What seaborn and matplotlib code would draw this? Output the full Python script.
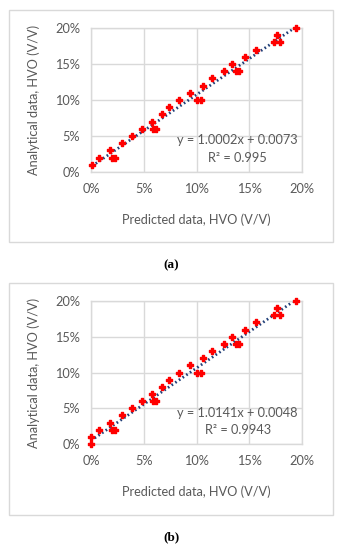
import numpy as np
import pandas as pd
import matplotlib
matplotlib.use("Agg")
import matplotlib.pyplot as plt
from matplotlib.patches import Rectangle
from matplotlib.ticker import PercentFormatter, MultipleLocator
import seaborn as sns

# predicted vs analytical HVO content, in percent
pred_a = [0.1, 0.8, 1.8, 2.0, 2.3, 2.9, 3.9, 4.8, 5.8, 5.9, 6.2, 6.75, 7.4, 8.3, 9.4,
          10.0, 10.4, 10.6, 11.5, 12.6, 13.4, 13.7, 14.0, 14.6, 15.6, 17.3, 17.6, 17.9, 19.4]
anal_a = [1, 2, 3, 2, 2, 4, 5, 6, 7, 6, 6, 8, 9, 10, 11,
          10, 10, 12, 13, 14, 15, 14, 14, 16, 17, 18, 19, 18, 20]
pred_b = [0.0] + pred_a[:]
pred_b[1] = 0.0
anal_b = [0] + anal_a

# trendline coefficients as printed on the chart
fits = [(1.0002, 0.0073, "0.995"), (1.0141, 0.0048, "0.9943")]
panel_labels = ["(a)", "(b)"]

sns.set_style("white")
plt.rcParams["font.family"] = ["Lato", "DejaVu Sans"]
grey_txt = "#595959"
grid_col = "#D9D9D9"

W, H = 342, 550
fig = plt.figure(figsize=(W / 100, H / 100), dpi=100)

# pixel boxes: (plot left, plot top, plot right, plot bottom), (frame top, frame bottom), label y
layout = [((91, 28, 302, 172), (10, 242), 265),
          ((91, 301, 302, 444), (283, 515), 537)]

datasets = [(pred_a, anal_a), (pred_b, anal_b)]

for (px, py), (slope, icpt, r2), lab, (box, frame, laby) in zip(datasets, fits, panel_labels, layout):
    l, t, r, b = box
    # chart frame
    fig.patches.append(Rectangle((9 / W, 1 - frame[1] / H), (333 - 9) / W, (frame[1] - frame[0]) / H,
                                 transform=fig.transFigure, fill=False, edgecolor=grid_col, lw=1))
    ax = fig.add_axes([l / W, 1 - b / H, (r - l) / W, (b - t) / H])
    df = pd.DataFrame({"x": np.array(px) / 100, "y": np.array(py) / 100})
    xs = np.array([df.x.min(), df.x.max()])
    trend = pd.DataFrame({"x": xs, "y": slope * xs + icpt})
    sns.lineplot(data=trend, x="x", y="y", ax=ax, color="#203F78", lw=2,
                 linestyle=(0, (0.6, 1.0)), zorder=2)
    sns.scatterplot(data=df, x="x", y="y", ax=ax, marker="P", s=24, color="#FF0000",
                    edgecolor="#FF0000", linewidth=1.0, zorder=3, clip_on=False)
    ax.set_xlim(0, 0.20)
    ax.set_ylim(0, 0.20)
    ax.xaxis.set_major_locator(MultipleLocator(0.05))
    ax.yaxis.set_major_locator(MultipleLocator(0.05))
    ax.xaxis.set_major_formatter(PercentFormatter(1.0, decimals=0))
    ax.yaxis.set_major_formatter(PercentFormatter(1.0, decimals=0))
    ax.grid(True, color=grid_col, lw=1)
    ax.set_axisbelow(True)
    for s in ax.spines.values():
        s.set_color(grid_col)
        s.set_linewidth(1)
    ax.tick_params(axis="both", length=0, labelsize=9.2, labelcolor=grey_txt, pad=8)
    ax.set_xlabel("Predicted data, HVO (V/V)", fontsize=9.2, color=grey_txt)
    ax.set_ylabel("Analytical data, HVO (V/V)", fontsize=9.2, color=grey_txt)
    ax.xaxis.set_label_coords(0.5, -41 / (b - t))
    ax.yaxis.set_label_coords(-(l - 40) / (r - l), 0.5)
    ax.text(0.139, 0.044, f"y = {slope:.4f}x + {icpt:.4f}", ha="center", va="center",
            fontsize=9.2, color=grey_txt)
    ax.text(0.139, 0.020, f"R\u00b2 = {r2}", ha="center", va="center",
            fontsize=9.2, color=grey_txt)
    fig.text(171 / W, 1 - laby / H, lab, ha="center", va="center", fontsize=9.5,
             fontweight="bold", family=["Liberation Serif", "DejaVu Serif"], color="black")

fig.savefig("out.png", dpi=100)
